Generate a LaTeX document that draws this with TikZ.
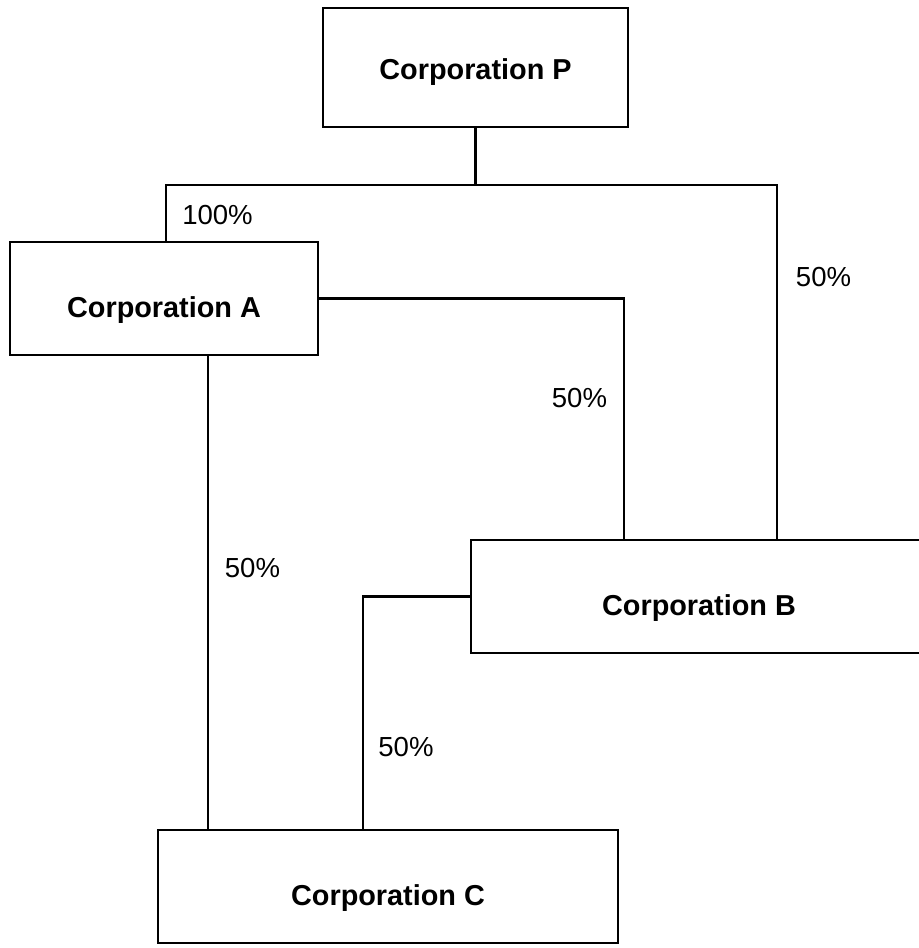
\documentclass[tikz,border=0pt]{standalone}
\usepackage{fontspec}
\setmainfont{Liberation Sans}
\usepackage{tikz}
\usetikzlibrary{calc,positioning}
\tikzstyle{corp} = [draw, rectangle, line width=1.6pt, inner sep=0pt,
    text height=32pt, text depth=4.5pt,
    font=\fontsize{20.5}{24}\bfseries\selectfont]
\tikzstyle{share} = [inner sep=0pt, font=\fontsize{19.6}{23}\selectfont]

\begin{document}
\begin{tikzpicture}[x=0.025cm, y=-0.025cm, line width=1.6pt]
  \useasboundingbox (0,0) rectangle (919,948);
  % Place nodes
  \node [corp, text height=22pt, minimum width=7.625cm, minimum height=2.975cm] (P) at (475.5,67.5) {Corporation P};
  \node [corp, minimum width=7.7cm, minimum height=2.825cm] (A) at (164,298.5) {Corporation A};
  \node [corp, minimum width=11.4cm, minimum height=2.825cm] (B) at (699,596.5) {Corporation B};
  \node [corp, minimum width=11.5cm, minimum height=2.825cm] (C) at (388,886.5) {Corporation C};
  % Bends
  \coordinate (pA) at (166,185);
  \coordinate (pB) at (777,185);
  \coordinate (aB) at (624,0);
  \coordinate (aC) at (208,0);
  \coordinate (bC) at (363,0);
  % Draw edges
  \draw (P.south) -- (P.south |- pA);
  \draw (A.north -| pA) -- (pA) -- (pB) -- (B.north -| pB);
  \draw (A.east) -| (B.north -| aB);
  \draw (A.south -| aC) -- (C.north -| aC);
  \draw (B.west) -| (C.north -| bC);
  % Shares
  \node [share] (s1) at (217.5,215) {100\%};
  \node [share] (s2) at (823.5,277) {50\%};
  \node [share] (s3) at (579.5,398) {50\%};
  \node [share] (s4) at (252.5,568) {50\%};
  \node [share] (s5) at (406,747) {50\%};
\end{tikzpicture}
\end{document}
